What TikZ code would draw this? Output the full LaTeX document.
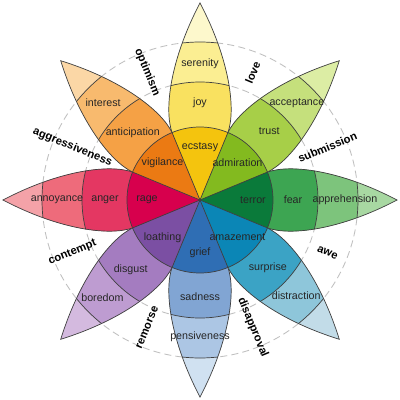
\documentclass[tikz,border=0pt]{standalone}
\usepackage{fontspec}
\setmainfont{Liberation Sans}
\usetikzlibrary{positioning}
% petal colours: A tip, B outer, C middle, D inner
\definecolor{joyA}{HTML}{FDF8CC}
\definecolor{joyB}{HTML}{FBEE92}
\definecolor{joyC}{HTML}{F9E160}
\definecolor{joyD}{HTML}{F4C40E}
\definecolor{trustA}{HTML}{DCEDA4}
\definecolor{trustB}{HTML}{C5E07C}
\definecolor{trustC}{HTML}{A7CF48}
\definecolor{trustD}{HTML}{83BA1F}
\definecolor{fearA}{HTML}{A8D8A2}
\definecolor{fearB}{HTML}{7DC47C}
\definecolor{fearC}{HTML}{3DA552}
\definecolor{fearD}{HTML}{0A7A3A}
\definecolor{surpriseA}{HTML}{C2DCE8}
\definecolor{surpriseB}{HTML}{8EC6DA}
\definecolor{surpriseC}{HTML}{3BA3C5}
\definecolor{surpriseD}{HTML}{0B86B6}
\definecolor{sadnessA}{HTML}{D0E1F1}
\definecolor{sadnessB}{HTML}{ACC6E4}
\definecolor{sadnessC}{HTML}{81A5D3}
\definecolor{sadnessD}{HTML}{2F6EB4}
\definecolor{disgustA}{HTML}{D4BADF}
\definecolor{disgustB}{HTML}{BE9CD1}
\definecolor{disgustC}{HTML}{A47CC0}
\definecolor{disgustD}{HTML}{7B4FA3}
\definecolor{angerA}{HTML}{F4A2A8}
\definecolor{angerB}{HTML}{EE6B7B}
\definecolor{angerC}{HTML}{E43762}
\definecolor{angerD}{HTML}{D7004D}
\definecolor{anticipationA}{HTML}{FBD7A6}
\definecolor{anticipationB}{HTML}{F8BA6E}
\definecolor{anticipationC}{HTML}{F5A145}
\definecolor{anticipationD}{HTML}{EB7A13}
\newcommand{\petalpath}{(0,0) -- (67.4,27.9) .. controls (90,36) and (140,30) .. (197,0) .. controls (140,-30) and (90,-36) .. (67.4,-27.9) -- cycle}

\begin{document}
\begin{tikzpicture}[scale=0.025,
  edge/.style={draw=black!75, line width=0.5pt},
  guide/.style={draw=black!25, dash pattern=on 5pt off 3pt, line width=0.6pt},
  emo/.style={font=\fontsize{7.6}{9}\selectfont, text=black!85, inner sep=0pt},
  dyad/.style={font=\fontsize{8}{10}\selectfont\bfseries, inner sep=0pt}]
  \useasboundingbox[fill=white] (-200,-200) rectangle (200,200);
  % ================================================================
  % guide circles
  % ================================================================
  \draw[guide] (0,0) circle (118) (0,0) circle (158);
  % ================================================================
  % petals
  % ================================================================
  \foreach \a/\n in {90/joy, 45/trust, 0/fear, -45/surprise, -90/sadness, -135/disgust, 180/anger, 135/anticipation} {
    \begin{scope}[rotate=\a]
      \begin{scope}
        \clip \petalpath;
        \fill[\n A] (0,0) circle (200);
        \fill[\n B] (0,0) circle (158);
        \fill[\n C] (0,0) circle (118);
        \draw[edge] (0,0) circle (158) (0,0) circle (118);
      \end{scope}
      \draw[edge] \petalpath;
    \end{scope}
  }
  % inner disk -----------------------------------------------------
  \foreach \a/\n in {90/joy, 45/trust, 0/fear, -45/surprise, -90/sadness, -135/disgust, 180/anger, 135/anticipation} {
    \fill[\n D, rotate=\a] (0,0) -- (-22.5:73) arc[start angle=-22.5, end angle=22.5, radius=73] -- cycle;
  }
  \foreach \a in {22.5, 67.5, 112.5, 157.5, 202.5, 247.5, 292.5, 337.5} {
    \draw[edge] (0,0) -- (\a:73);
  }
  \draw[edge] (0,0) circle (73);
  % ================================================================
  % labels
  % ================================================================
  \foreach \a/\n/\o/\m/\i/\ro/\rm in {90/joy/serenity/joy/ecstasy/136/97, 45/trust/acceptance/trust/admiration/137/98,
      0/fear/apprehension/fear/terror/145/93, -45/surprise/distraction/surprise/amazement/136/96,
      -90/sadness/pensiveness/sadness/grief/137/97, -135/disgust/boredom/disgust/loathing/138/98,
      180/anger/annoyance/anger/rage/143/95, 135/anticipation/interest/anticipation/vigilance/137/95} {
    \node[emo] (\n-outer) at (\a:\ro) {\o};
    \node[emo] (\n-mid) at (\a:\rm) {\m};
    \node[emo] (\n-inner) at (\a:53) {\i};
  }
  \foreach \a/\t/\r in {67.5/love/67.5, 22.5/submission/22.5, -22.5/awe/-22.5, -67.5/disapproval/-67.5,
      -112.5/remorse/67.5, -157.5/contempt/22.5, 157.5/aggressiveness/-22.5, 112.5/optimism/-67.5} {
    \node[dyad, rotate=\r] (\t) at (\a:138) {\t};
  }
\end{tikzpicture}
\end{document}
